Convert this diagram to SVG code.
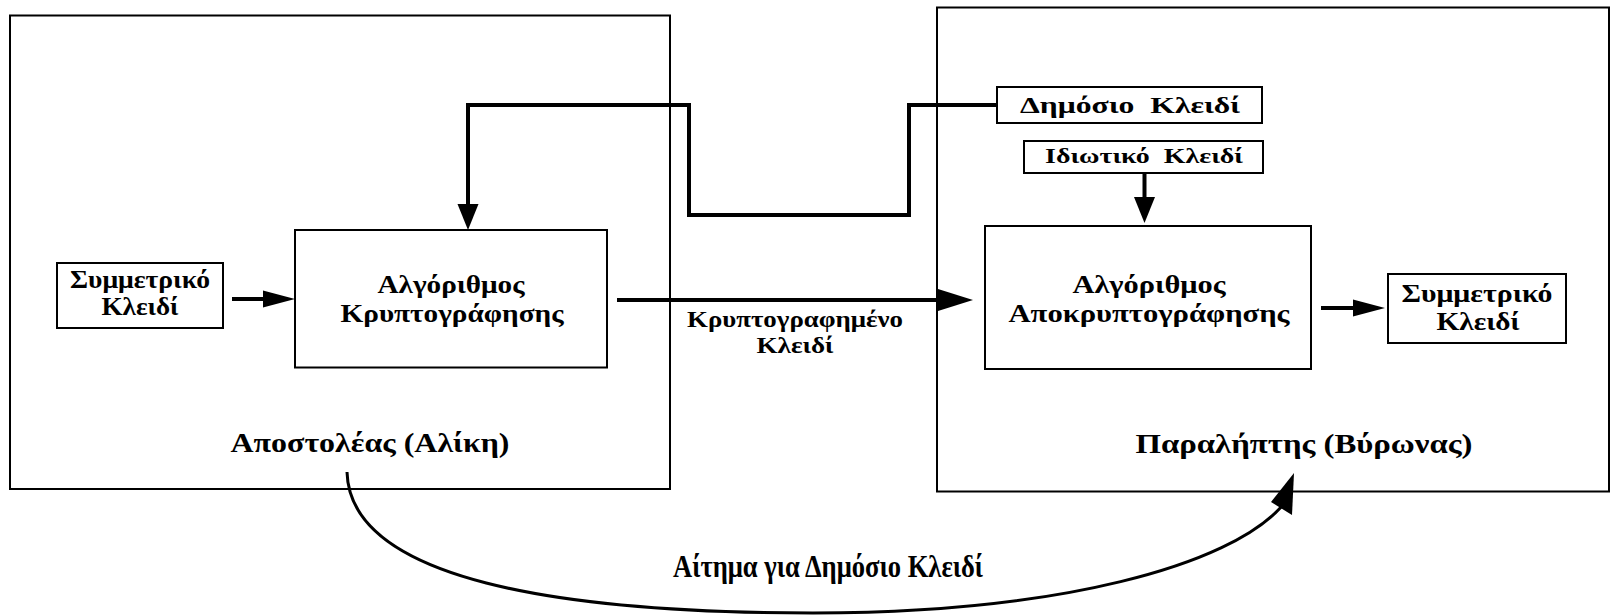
<svg xmlns="http://www.w3.org/2000/svg" width="1614" height="616" viewBox="0 0 1614 616">
<style>
  .frame { fill: #fff; stroke: #000; stroke-width: 2; }
  .box { fill: #fff; stroke: #000; stroke-width: 2; }
  .conn { fill: none; stroke: #000; stroke-width: 4; }
  .curve { fill: none; stroke: #000; stroke-width: 3; }
  .t { font-family: "Liberation Serif", "DejaVu Serif", serif; font-weight: bold; font-size: 25px; text-anchor: middle; fill: #000; white-space: pre; }
  .big { font-size: 28px; }
  .mid { font-size: 24px; }
  .small { font-size: 22px; }
  .req { font-family: "Liberation Serif", "DejaVu Serif", serif; font-weight: bold; font-size: 32px; text-anchor: middle; fill: #000; }
</style>
<defs>
  <marker id="ahBig" markerUnits="userSpaceOnUse" markerWidth="36" markerHeight="22" refX="0" refY="11" orient="auto" overflow="visible">
    <path d="M0,0 L35,11 L0,22 z" fill="#000"/>
  </marker>
  <marker id="ahMed" markerUnits="userSpaceOnUse" markerWidth="33" markerHeight="17" refX="0" refY="8.5" orient="auto" overflow="visible">
    <path d="M0,0 L32,8.5 L0,17 z" fill="#000"/>
  </marker>
  <marker id="ahV" markerUnits="userSpaceOnUse" markerWidth="26" markerHeight="21" refX="0" refY="10.5" orient="auto" overflow="visible">
    <path d="M0,0 L26,10.5 L0,21 z" fill="#000"/>
  </marker>
</defs>
<rect width="1614" height="616" fill="#fff"/>

<g id="sender">
  <rect class="frame" x="10" y="15.5" width="660" height="473.5"/>
  <text class="t big" x="370" y="452" textLength="279" lengthAdjust="spacingAndGlyphs">Αποστολέας (Αλίκη)</text>
</g>
<g id="receiver">
  <rect class="frame" x="937" y="7.5" width="672" height="484"/>
  <text class="t big" x="1304" y="453" textLength="337" lengthAdjust="spacingAndGlyphs">Παραλήπτης (Βύρωνας)</text>
</g>

<g id="sym-key-left">
  <rect class="box" x="57" y="263" width="166" height="65"/>
  <text class="t" x="140" y="288" textLength="140" lengthAdjust="spacingAndGlyphs">Συμμετρικό</text>
  <text class="t" x="140" y="315" textLength="77" lengthAdjust="spacingAndGlyphs">Κλειδί</text>
</g>
<g id="encrypt">
  <rect class="box" x="295" y="230" width="312" height="137.5"/>
  <text class="t" x="451" y="293" textLength="147" lengthAdjust="spacingAndGlyphs">Αλγόριθμος</text>
  <text class="t" x="452" y="321.5" textLength="223" lengthAdjust="spacingAndGlyphs">Κρυπτογράφησης</text>
</g>
<g id="public-key">
  <rect class="box" x="997" y="87" width="265" height="36"/>
  <text class="t mid" x="1130" y="112.5" textLength="220" lengthAdjust="spacingAndGlyphs">Δημόσιο  Κλειδί</text>
</g>
<g id="private-key">
  <rect class="box" x="1024" y="141" width="239" height="32"/>
  <text class="t small" x="1144" y="163" textLength="198" lengthAdjust="spacingAndGlyphs">Ιδιωτικό  Κλειδί</text>
</g>
<g id="decrypt">
  <rect class="box" x="985" y="226" width="326" height="143"/>
  <text class="t" x="1149" y="293" textLength="153" lengthAdjust="spacingAndGlyphs">Αλγόριθμος</text>
  <text class="t" x="1149" y="321.5" textLength="281" lengthAdjust="spacingAndGlyphs">Αποκρυπτογράφησης</text>
</g>
<g id="sym-key-right">
  <rect class="box" x="1388" y="274" width="178" height="69"/>
  <text class="t" x="1477" y="301.5" textLength="151" lengthAdjust="spacingAndGlyphs">Συμμετρικό</text>
  <text class="t" x="1478" y="330" textLength="83" lengthAdjust="spacingAndGlyphs">Κλειδί</text>
</g>

<g id="connectors">
  <path class="conn" d="M232,299 H263" marker-end="url(#ahMed)"/>
  <path class="conn" d="M997,105 H909 V215 H689 V105 H468 V204" marker-end="url(#ahV)"/>
  <path class="conn" d="M617,300 H938" marker-end="url(#ahBig)"/>
  <path class="conn" d="M1144.5,173 V197" marker-end="url(#ahV)"/>
  <path class="conn" d="M1321,308 H1353" marker-end="url(#ahMed)"/>
  <path class="curve" d="M347,472 C350,580 560,613 813,613 C1060,613 1230,565 1282,506"/>
  <polygon points="1294,473 1271,502 1292,515" fill="#000"/>
  <text class="t mid" x="795" y="326.5" textLength="216" lengthAdjust="spacingAndGlyphs">Κρυπτογραφημένο</text>
  <text class="t mid" x="795" y="353" textLength="77" lengthAdjust="spacingAndGlyphs">Κλειδί</text>
  <text class="req" x="828" y="577" textLength="310" lengthAdjust="spacingAndGlyphs">Αίτημα για Δημόσιο Κλειδί</text>
</g>
</svg>
